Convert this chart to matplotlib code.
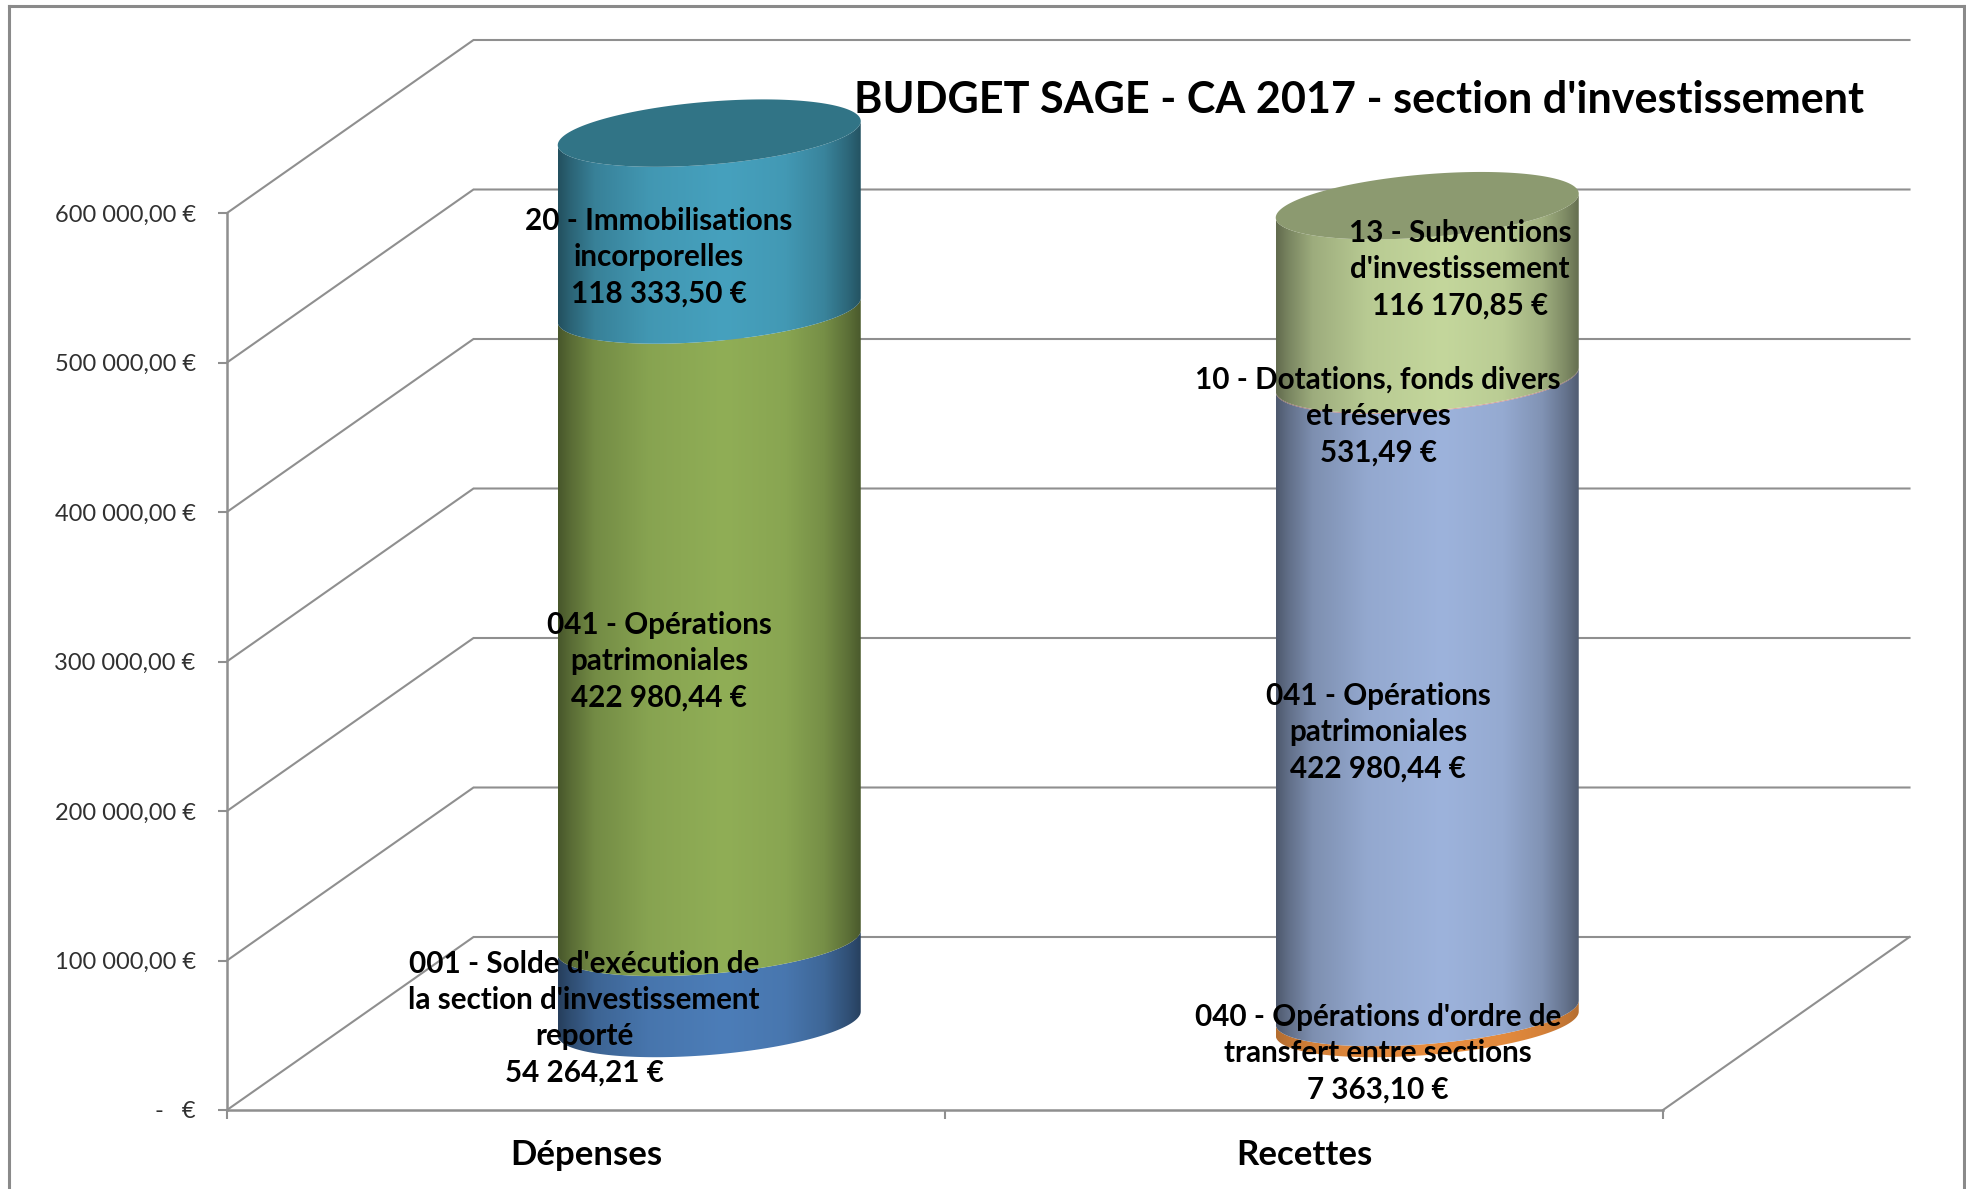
import numpy as np
import matplotlib
matplotlib.use("Agg")
import matplotlib.pyplot as plt
from matplotlib.patches import Polygon
from matplotlib.transforms import Affine2D
from matplotlib.lines import Line2D

plt.rcParams['font.family'] = ['Lato', 'DejaVu Sans']

# ---------- data ----------
categories = ["Dépenses", "Recettes"]
title = "BUDGET SAGE - CA 2017 - section d'investissement"
y_ticks = [0, 100000, 200000, 300000, 400000, 500000, 600000]

depenses_names = ["001 - Solde d'exécution de\nla section d'investissement\nreporté",
                  "041 - Opérations\npatrimoniales",
                  "20 - Immobilisations\nincorporelles"]
depenses_values = [54264.21, 422980.44, 118333.50]

recettes_names = ["040 - Opérations d'ordre de\ntransfert entre sections",
                  "041 - Opérations\npatrimoniales",
                  "10 - Dotations, fonds divers\net réserves",
                  "13 - Subventions\nd'investissement"]
recettes_values = [7363.10, 422980.44, 531.49, 116170.85]

# ---------- style ----------
W, H = 1966, 1189
dep_colors = ["#4c7db8", "#90ae56", "#46a1be"]
rec_colors = ["#e88d3e", "#9db3dc", "#d99694", "#c4d79c"]
dep_shade = [1, 1, 1]
rec_shade = [0.45, 1, 1, 1]
dep_top = "#317486"
rec_top = "#8c9a70"
dep_label_px = [(584, 1018), (659, 661), (659, 257)]
rec_label_px = [(1378, 1053), (1378, 732), (1378, 416), (1460, 269)]

AX_L, AX_R, AX_T, AX_B = 227, 1663, 213, 1110
PX_X = (AX_R - AX_L) / 2.0          # pixels per category
PX_Y = (AX_B - AX_T) / 600000.0     # pixels per euro
DEPTH_X = 246.5 / PX_X
DEPTH_Y = 173 / PX_Y
ELL_A = 151.5 / PX_X
ELL_B = 31.5 / PX_Y
ELL_S = 12 / PX_Y
GRID = "#8f8f8f"
LW = 1.5

fig = plt.figure(figsize=(W / 100, H / 100), dpi=100, facecolor="white")
ax = fig.add_axes([AX_L / W, 1 - AX_B / H, (AX_R - AX_L) / W, (AX_B - AX_T) / H])
ax.set_facecolor("none")
ax.set_xlim(-0.5, 1.5)
ax.set_ylim(0, 600000)

# pixel coordinates, top-left origin
px = Affine2D().scale(1, -1).translate(0, H)

# outer frame
for xs, ys in [((9, 9), (H, 6)), ((9, 1964), (6, 6)), ((1964, 1964), (6, H))]:
    fig.add_artist(Line2D(xs, ys, transform=px, color="#8a8a8a", lw=2.2))

# walls and floor
for v in y_ticks:
    ax.plot([-0.5, -0.5 + DEPTH_X, 1.5 + DEPTH_X], [v, v + DEPTH_Y, v + DEPTH_Y],
            color=GRID, lw=LW, clip_on=False, zorder=1, solid_joinstyle="miter")
ax.plot([1.5, 1.5 + DEPTH_X], [0, DEPTH_Y], color=GRID, lw=LW, clip_on=False, zorder=1)

# axes
for s in ("top", "right"):
    ax.spines[s].set_visible(False)
for s in ("left", "bottom"):
    ax.spines[s].set_color(GRID)
    ax.spines[s].set_linewidth(LW + 0.3)


def money(v):
    txt = f"{v:,.2f}".replace(",", " ").replace(".", ",")
    return txt + " €"


ax.set_yticks(y_ticks)
ax.set_yticklabels(["-   €"] + [money(v) for v in y_ticks[1:]],
                   fontsize=17, color="#303030")
ax.tick_params(axis="y", length=6.5, width=LW, color=GRID, pad=16)
ax.set_xticks([-0.5, 0.5, 1.5])
ax.set_xticklabels(["", "", ""])
ax.tick_params(axis="x", length=6.5, width=LW, color=GRID)
ax.set_xticks([0, 1], minor=True)
ax.set_xticklabels(categories, minor=True, fontsize=25, fontweight="bold", color="black")
ax.tick_params(axis="x", which="minor", length=0, pad=21)

# shading across the width of a cylinder
pos = np.array([0.0, 0.04, 0.12, 0.3, 0.55, 0.75, 0.88, 0.96, 1.0])
shade = np.array([0.50, 0.62, 0.80, 0.94, 1.0, 0.95, 0.82, 0.64, 0.52])
grid_u = np.linspace(0, 1, 200)
profile = np.interp(grid_u, pos, shade)


def front_arc(cx, level, reverse=False):
    t = np.linspace(0, np.pi, 120)
    if reverse:
        t = t[::-1]
    return np.column_stack((cx + ELL_A * np.cos(t),
                            level + ELL_S * np.cos(t) - ELL_B * np.sin(t)))


def draw_cylinder(idx, values, colors, strengths, top_color):
    cx = idx + DEPTH_X / 2
    base = DEPTH_Y / 2
    level = base
    for v, c, k in zip(values, colors, strengths):
        rgb = np.array(matplotlib.colors.to_rgb(c))
        prof = 1 - (1 - profile) * k
        img = (prof[:, None] * rgb)[None, :, :]
        verts = np.vstack((front_arc(cx, level), front_arc(cx, level + v, reverse=True)))
        im = ax.imshow(img, extent=(cx - ELL_A, cx + ELL_A, level - 2 * ELL_B, level + v + 2 * ELL_B),
                       aspect="auto", origin="lower", interpolation="bilinear", zorder=3)
        im.set_clip_path(Polygon(verts, closed=True, transform=ax.transData))
        im.set_clip_box(fig.bbox)
        level += v
    t = np.linspace(0, 2 * np.pi, 240)
    ax.add_patch(Polygon(np.column_stack((cx + ELL_A * np.cos(t),
                                          level + ELL_S * np.cos(t) - ELL_B * np.sin(t))),
                         closed=True, facecolor=top_color, edgecolor="none",
                         clip_on=False, zorder=4))


draw_cylinder(0, depenses_values, dep_colors, dep_shade, dep_top)
draw_cylinder(1, recettes_values, rec_colors, rec_shade, rec_top)
ax.set_xlim(-0.5, 1.5)
ax.set_ylim(0, 600000)

# labels
for names, values, places in [(depenses_names, depenses_values, dep_label_px),
                              (recettes_names, recettes_values, rec_label_px)]:
    for n, v, (x, y) in zip(names, values, places):
        ax.text(x, y, n + "\n" + money(v), transform=px, ha="center", va="center",
                multialignment="center", fontsize=21.3, fontweight="bold", color="black",
                linespacing=1.36, zorder=6, clip_on=False)

ax.text(1359, 100, title, transform=px, ha="center", va="center", fontsize=31.1,
        fontweight="bold", color="black", zorder=6, clip_on=False)

fig.savefig("out.png", dpi=100, facecolor="white")
